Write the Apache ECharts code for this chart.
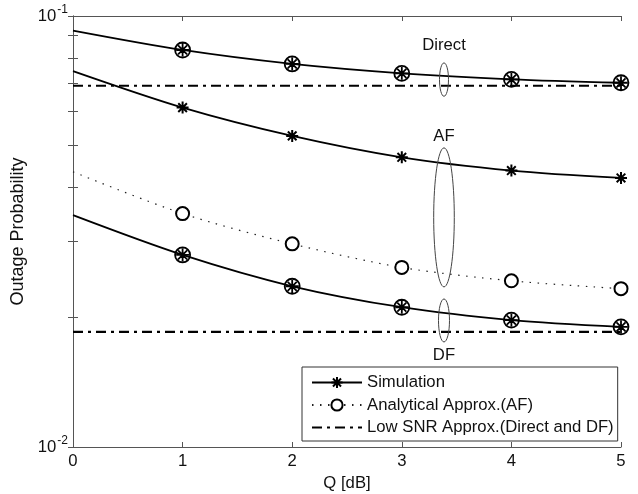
<!DOCTYPE html>
<html>
<head>
<meta charset="utf-8">
<script src="https://cdn.jsdelivr.net/npm/echarts@6/dist/echarts.min.js"></script>
<style>
html,body{margin:0;padding:0;background:#fff;}
#main{width:638px;height:494px;}
</style>
</head>
<body>
<div id="main"></div>
<script>
var qValues = [0, 1, 2, 3, 4, 5];
var directSim = [0.0925, 0.0834, 0.0774, 0.0736, 0.0713, 0.0700];
var afSim = [0.0745, 0.0613, 0.0527, 0.0470, 0.0438, 0.0421];
var afApprox = [0.0435, 0.0348, 0.0296, 0.0261, 0.0243, 0.0233];
var dfSim = [0.0345, 0.0279, 0.0236, 0.0211, 0.0197, 0.0190];
var directLow = [0.0689, 0.0689, 0.0689, 0.0689, 0.0689, 0.0689];
var dfLow = [0.0185, 0.0185, 0.0185, 0.0185, 0.0185, 0.0185];
var yMinorTicks = [0.02, 0.03, 0.04, 0.05, 0.06, 0.07, 0.08, 0.09];
var yLabels = [0.01, 0.1];
var xLabels = ['0', '1', '2', '3', '4', '5'];

(function(){
	var font = 'Liberation Sans, Arial, sans-serif';
	var fs = 16.7;
	var myChart = echarts.init(document.getElementById('main'));

	// first point (Q = 0) is drawn as line only, markers start at Q = 1
	function pairs(ys) {
		return qValues.map(function (x, i) {
			if (i === 0) return { value: [x, ys[i]], symbol: 'none' };
			return [x, ys[i]];
		});
	}

	var star = 'path://M0,-1L0,1M-1,0L1,0M-0.72,-0.72L0.72,0.72M-0.72,0.72L0.72,-0.72';
	var circleStar = 'path://M-1,0A1,1,0,1,0,1,0A1,1,0,1,0,-1,0Z'
		+ 'M0,-0.85L0,0.85M-0.85,0L0.85,0M-0.6,-0.6L0.6,0.6M-0.6,0.6L0.6,-0.6';

	var dashDot = [10, 5, 3, 5];

	var xBase = {
		type: 'value', min: 0, max: 5, interval: 1,
		axisLine: { show: true, lineStyle: { color: '#555', width: 1 } },
		axisTick: { show: true, inside: true, length: 5, lineStyle: { color: '#555' } },
		splitLine: { show: false }
	};
	var yBase = {
		type: 'log', logBase: 10, min: 0.01, max: 0.1,
		axisLine: { show: true, lineStyle: { color: '#555', width: 1 } },
		axisTick: { show: true, inside: true, length: 5, customValues: yMinorTicks.concat(yLabels), lineStyle: { color: '#555' } },
		splitLine: { show: false },
		minorTick: { show: false }
	};

	var option = {
		animation: false,
		backgroundColor: '#fff',
		textStyle: { fontFamily: font },
		grid: { left: 73, right: 17, top: 16, bottom: 47, containLabel: false, outerBoundsMode: 'none' },
		legend: {
			orient: 'vertical',
			left: 302, top: 367,
			itemWidth: 50, itemHeight: 14, itemGap: 5.5,
			padding: [7, 4, 5, 9],
			backgroundColor: '#fff',
			borderColor: '#333', borderWidth: 1,
			textStyle: { fontFamily: font, fontSize: fs, color: '#111' },
			data: [
				'Simulation',
				'Analytical Approx.(AF)',
				{ name: 'Low SNR Approx.(Direct and DF)', itemStyle: { opacity: 0 } }
			]
		},
		xAxis: [
			Object.assign({}, xBase, {
				position: 'bottom',
				name: 'Q [dB]', nameLocation: 'middle', nameGap: 26,
				nameTextStyle: { fontFamily: font, fontSize: fs, color: '#111' },
				axisLabel: {
					fontFamily: font, fontSize: fs, color: '#111', margin: 6,
					formatter: function (v) { return xLabels[v] !== undefined ? xLabels[v] : ''; }
				}
			}),
			Object.assign({}, xBase, { position: 'top', axisLabel: { show: false } })
		],
		yAxis: [
			Object.assign({}, yBase, {
				position: 'left',
				name: 'Outage Probability', nameLocation: 'middle', nameGap: 37,
				nameTextStyle: { fontFamily: font, fontSize: 18, color: '#111' },
				axisLabel: {
					customValues: yLabels,
					margin: 5,
					formatter: function (v) {
						var e = Math.round(Math.log(v) / Math.LN10);
						return '{b|10}{e|' + e + '}';
					},
					rich: {
						b: { fontFamily: font, fontSize: fs, color: '#111' },
						e: { fontFamily: font, fontSize: 12, color: '#111', padding: [0, 0, 12, 1] }
					}
				}
			}),
			Object.assign({}, yBase, { position: 'right', axisLabel: { show: false } })
		],
		series: [
			{
				name: 'Simulation', type: 'line', data: pairs(afSim), smooth: 0.3,
				symbol: star, symbolSize: 12,
				lineStyle: { color: '#000', width: 1.8, type: 'solid' },
				itemStyle: { color: 'rgba(0,0,0,0)', borderColor: '#000', borderWidth: 2 }, z: 5
			},
			{
				name: 'Analytical Approx.(AF)', type: 'line', data: pairs(afApprox), smooth: 0.3,
				symbol: 'emptyCircle', symbolSize: 13,
				lineStyle: { color: '#222', width: 1.2, type: [1.5, 6.5] },
				itemStyle: { color: '#000', borderColor: '#000', borderWidth: 1.6 }, z: 4
			},
			{
				name: 'Low SNR Approx.(Direct and DF)', type: 'line', data: pairs(directLow),
				symbol: 'none', showSymbol: false,
				lineStyle: { color: '#000', width: 2.2, type: dashDot },
				itemStyle: { color: '#000' }, z: 3
			},
			{
				name: 'Low SNR Approx.(Direct and DF)', type: 'line', data: pairs(dfLow),
				symbol: 'none', showSymbol: false,
				lineStyle: { color: '#000', width: 2.2, type: dashDot },
				itemStyle: { color: '#000' }, z: 3
			},
			{
				name: 'Simulation', type: 'line', data: pairs(directSim), smooth: 0.3,
				symbol: circleStar, symbolSize: 15,
				lineStyle: { color: '#000', width: 1.8 },
				itemStyle: { color: 'rgba(0,0,0,0)', borderColor: '#000', borderWidth: 1.8 }, z: 5
			},
			{
				name: 'Simulation', type: 'line', data: pairs(dfSim), smooth: 0.3,
				symbol: circleStar, symbolSize: 15,
				lineStyle: { color: '#000', width: 1.8 },
				itemStyle: { color: 'rgba(0,0,0,0)', borderColor: '#000', borderWidth: 1.8 }, z: 5
			}
		]
	};
	myChart.setOption(option);

	// ellipse annotations, anchored in data coordinates
	var notes = [
		{ text: 'Direct', x: 3.385, y: 0.0712, rx: 4.5, ry: 16.7, labelY: 0.0853 },
		{ text: 'AF', x: 3.385, y: 0.0341, rx: 10.3, ry: 69.5, labelY: 0.0527 },
		{ text: 'DF', x: 3.385, y: 0.01966, rx: 5.5, ry: 21.5, labelY: 0.0163 }
	];
	var graphics = [];
	notes.forEach(function (n) {
		var c = myChart.convertToPixel({ gridIndex: 0 }, [n.x, n.y]);
		var t = myChart.convertToPixel({ gridIndex: 0 }, [n.x, n.labelY]);
		graphics.push({
			type: 'ellipse', z: 10,
			shape: { cx: c[0], cy: c[1], rx: n.rx, ry: n.ry },
			style: { fill: 'none', stroke: '#444', lineWidth: 1 }
		});
		graphics.push({
			type: 'text', z: 10, x: t[0], y: t[1],
			style: { text: n.text, font: fs + 'px ' + font, fill: '#111', align: 'center', verticalAlign: 'middle' }
		});
	});
	myChart.setOption({ graphic: graphics });

	window.addEventListener('resize', function () {
		myChart.resize();
	});
})();
</script>
</body>
</html>
